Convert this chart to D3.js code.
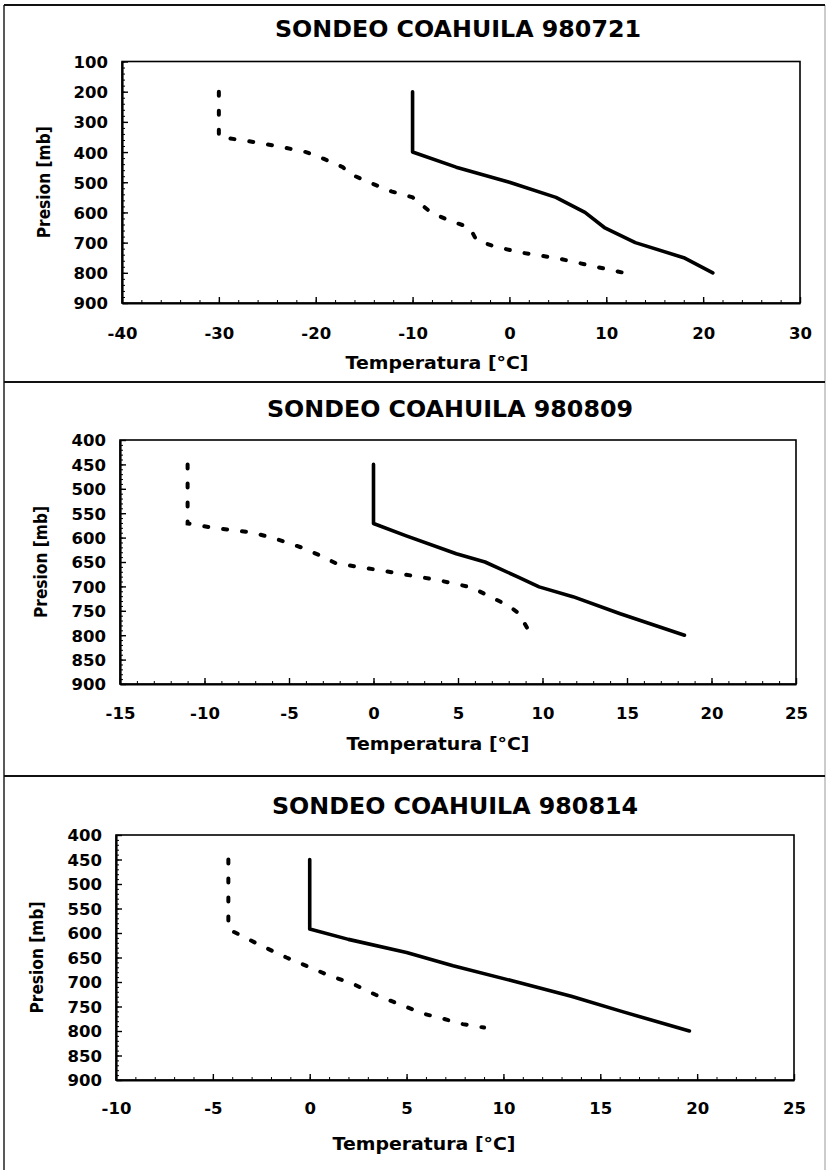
<!DOCTYPE html>
<html>
<head>
<meta charset="utf-8">
<script src="https://cdn.jsdelivr.net/npm/d3@7"></script>
<style>
  body { margin: 0; background: #fff; }
  text { font-family: "DejaVu Sans", Arial, sans-serif; font-weight: bold; fill: #000; }
</style>
</head>
<body>
<script>
var width = 828;
var height = 1170;

// titles and axis labels
var titles = ["SONDEO COAHUILA 980721", "SONDEO COAHUILA 980809", "SONDEO COAHUILA 980814"];
var xTitle = "Temperatura [\u00b0C]";
var yTitle = "Presion [mb]";

// tick labels
var xTicks1 = [-40, -30, -20, -10, 0, 10, 20, 30];
var xTicks2 = [-15, -10, -5, 0, 5, 10, 15, 20, 25];
var xTicks3 = [-10, -5, 0, 5, 10, 15, 20, 25];
var yTicks1 = [100, 200, 300, 400, 500, 600, 700, 800, 900];
var yTicks2 = [400, 450, 500, 550, 600, 650, 700, 750, 800, 850, 900];
var yTicks3 = [400, 450, 500, 550, 600, 650, 700, 750, 800, 850, 900];

// sondeo 980721 : temperatura (solid) and punto de rocio (dashed)
var tempP1 = [200, 400, 450, 500, 550, 600, 650, 700, 750, 800];
var tempT1 = [-10, -10, -5.5, 0, 4.8, 7.8, 9.8, 13, 18, 21];
var dewP1 = [200, 350, 362, 380, 400, 422, 450, 470, 500, 530, 550, 600, 627, 650, 692, 712, 732, 752, 772, 800];
var dewT1 = [-30, -30, -27.3, -24, -21, -19.2, -17.2, -16.6, -14.5, -12.2, -10, -8.1, -6.2, -4.1, -3.4, -1.6, 1, 5, 7.8, 11.8];

// sondeo 980809
var tempP2 = [450, 571, 596, 633, 650, 680, 701, 721, 756, 800];
var tempT2 = [0, 0, 1.9, 4.9, 6.6, 8.5, 9.8, 11.8, 14.6, 18.4];
var dewP2 = [450, 571, 580, 589, 600, 621, 636, 653, 662, 674, 687, 702, 721, 738, 755, 792];
var dewT2 = [-11, -11, -9.5, -7.3, -6, -4.2, -3.2, -2.2, -0.5, 1.6, 3.8, 5.8, 6.9, 7.9, 8.6, 9.2];

// sondeo 980814
var tempP3 = [450, 592, 613, 640, 667, 698, 729, 760, 800];
var tempT3 = [0, 0, 2, 5, 7.4, 10.5, 13.5, 16.1, 19.6];
var dewP3 = [450, 592, 606, 624, 650, 670, 685, 705, 726, 745, 765, 775, 786, 793];
var dewT3 = [-4.2, -4.2, -3.5, -2.6, -1.2, 0, 0.9, 2.3, 3.4, 4.6, 5.9, 6.9, 7.9, 9];

var svg = d3.select("body").append("svg")
  .attr("width", width)
  .attr("height", height);

// outer frame of the scanned page
svg.append("line").attr("x1", 4).attr("y1", 5).attr("x2", 4).attr("y2", height).attr("stroke", "#222").attr("stroke-width", 1.5);
svg.append("line").attr("x1", 825).attr("y1", 5).attr("x2", 825).attr("y2", height).attr("stroke", "#999").attr("stroke-width", 1);
[5, 382, 776].forEach(function (y) {
  svg.append("line").attr("x1", 4).attr("y1", y).attr("x2", 825).attr("y2", y)
    .attr("stroke", "#111").attr("stroke-width", 2);
});

var panels = [
  { title: titles[0], xd: [-40, 30], yd: [100, 900], xt: xTicks1, yt: yTicks1, xMinor: 2, yMinor: 20,
    left: 122, right: 800, top: 61.5, bottom: 303, titleX: 458, titleY: 28, xLabY: 333, xTitleX: 437, xTitleY: 362, yTitleX: 44,
    temp: d3.zip(tempT1, tempP1), dew: d3.zip(dewT1, dewP1) },
  { title: titles[1], xd: [-15, 25], yd: [400, 900], xt: xTicks2, yt: yTicks2, xMinor: 1, yMinor: 10,
    left: 120, right: 796, top: 440, bottom: 684, titleX: 450, titleY: 408, xLabY: 713, xTitleX: 438, xTitleY: 743, yTitleX: 41,
    temp: d3.zip(tempT2, tempP2), dew: d3.zip(dewT2, dewP2) },
  { title: titles[2], xd: [-10, 25], yd: [400, 900], xt: xTicks3, yt: yTicks3, xMinor: 1, yMinor: 10,
    left: 116, right: 794, top: 835, bottom: 1080, titleX: 455, titleY: 805, xLabY: 1108, xTitleX: 424, xTitleY: 1143, yTitleX: 37,
    temp: d3.zip(tempT3, tempP3), dew: d3.zip(dewT3, dewP3) }
];

panels.forEach(function (p) {
  var x = d3.scaleLinear().domain(p.xd).range([p.left, p.right]);
  var y = d3.scaleLinear().domain(p.yd).range([p.top, p.bottom]);
  var g = svg.append("g");

  // title
  g.append("text")
    .attr("x", p.titleX).attr("y", p.titleY + 8.5)
    .attr("text-anchor", "middle")
    .attr("font-size", 23)
    .attr("textLength", 366).attr("lengthAdjust", "spacingAndGlyphs")
    .text(p.title);

  // plot frame
  g.append("rect")
    .attr("x", p.left).attr("y", p.top)
    .attr("width", p.right - p.left).attr("height", p.bottom - p.top)
    .attr("fill", "none").attr("stroke", "#000").attr("stroke-width", 1.6);

  // minor ticks (inside)
  var xm = d3.range(p.xd[0], p.xd[1] + 0.001, p.xMinor);
  var ym = d3.range(p.yd[0], p.yd[1] + 0.001, p.yMinor);
  g.append("g").attr("transform", "translate(0," + p.bottom + ")")
    .call(d3.axisBottom(x).tickValues(xm).tickSizeInner(-3).tickSizeOuter(0).tickFormat(""))
    .call(function (a) { a.select(".domain").remove(); });
  g.append("g").attr("transform", "translate(" + p.left + ",0)")
    .call(d3.axisLeft(y).tickValues(ym).tickSizeInner(-3).tickSizeOuter(0).tickFormat(""))
    .call(function (a) { a.select(".domain").remove(); });

  // major ticks with labels
  var xa = g.append("g").attr("transform", "translate(0," + p.bottom + ")")
    .call(d3.axisBottom(x).tickValues(p.xt).tickSizeInner(-6).tickSizeOuter(0).tickPadding(0).tickFormat(d3.format("d")));
  xa.select(".domain").attr("stroke-width", 2.2);
  xa.selectAll(".tick line").attr("stroke-width", 1.4);
  xa.selectAll(".tick text")
    .attr("y", p.xLabY - p.bottom + 6).attr("dy", null)
    .attr("font-size", 16.5)
    .text(function (d) { return String(d).replace("-", "-"); });

  var ya = g.append("g").attr("transform", "translate(" + p.left + ",0)")
    .call(d3.axisLeft(y).tickValues(p.yt).tickSizeInner(-6).tickSizeOuter(0).tickPadding(14).tickFormat(d3.format("d")));
  ya.select(".domain").attr("stroke-width", 2.2);
  ya.selectAll(".tick line").attr("stroke-width", 1.4);
  ya.selectAll(".tick text").attr("dy", "0.36em").attr("font-size", 16.5);
  xa.selectAll("text").attr("font-family", null).attr("fill", "#000");
  ya.selectAll("text").attr("font-family", null).attr("fill", "#000");

  // axis titles
  g.append("text")
    .attr("x", p.xTitleX).attr("y", p.xTitleY + 6.5)
    .attr("text-anchor", "middle")
    .attr("font-size", 17.5)
    .attr("textLength", 183).attr("lengthAdjust", "spacingAndGlyphs")
    .text(xTitle);
  g.append("text")
    .attr("transform", "translate(" + (p.yTitleX + 6) + "," + ((p.top + p.bottom) / 2) + ") rotate(-90)")
    .attr("text-anchor", "middle")
    .attr("font-size", 17)
    .attr("textLength", 112).attr("lengthAdjust", "spacingAndGlyphs")
    .text(yTitle);

  // sounding lines
  var line = d3.line()
    .x(function (d) { return x(d[0]); })
    .y(function (d) { return y(d[1]); });

  g.append("path")
    .datum(p.temp)
    .attr("d", line)
    .attr("fill", "none")
    .attr("stroke", "#000")
    .attr("stroke-width", 3.6)
    .attr("stroke-linejoin", "round")
    .attr("stroke-linecap", "round");

  g.append("path")
    .datum(p.dew)
    .attr("d", line)
    .attr("fill", "none")
    .attr("stroke", "#000")
    .attr("stroke-width", 4)
    .attr("stroke-linecap", "round")
    .attr("stroke-dasharray", "4,15");
});
</script>
</body>
</html>
